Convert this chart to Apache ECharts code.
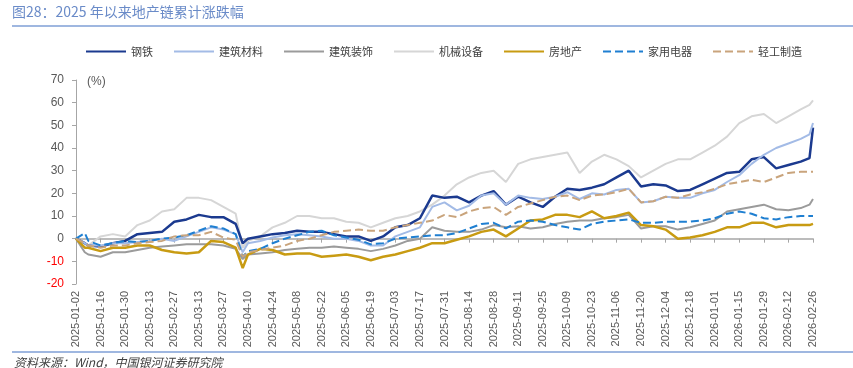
<!DOCTYPE html>
<html>
<head>
<meta charset="utf-8">
<script src="https://cdn.jsdelivr.net/npm/echarts@6/dist/echarts.min.js"></script>
<style>
    html, body { margin: 0; padding: 0; background: #fff; }
    #chart { width: 853px; height: 368px; }
</style>
</head>
<body>
<div id="chart"></div>
<script>
// 采样日期（每周 + 几个关键日）
var dates = [
    '2025-01-02', '2025-01-07',
    '2025-01-09', '2025-01-16', '2025-01-23', '2025-01-30', '2025-02-06', '2025-02-13', '2025-02-20', '2025-02-27', '2025-03-06', '2025-03-13', '2025-03-20', '2025-03-27', '2025-04-03',
    '2025-04-07',
    '2025-04-10', '2025-04-17', '2025-04-24', '2025-05-01', '2025-05-08', '2025-05-15', '2025-05-22', '2025-05-29', '2025-06-05', '2025-06-12', '2025-06-19', '2025-06-26', '2025-07-03', '2025-07-10', '2025-07-17', '2025-07-24',
    '2025-07-31', '2025-08-07', '2025-08-14', '2025-08-21', '2025-08-28', '2025-09-04', '2025-09-11', '2025-09-18', '2025-09-25', '2025-10-02', '2025-10-09', '2025-10-16', '2025-10-23', '2025-10-30', '2025-11-06', '2025-11-13',
    '2025-11-20', '2025-11-27', '2025-12-04', '2025-12-11', '2025-12-18', '2025-12-25', '2026-01-01', '2026-01-08', '2026-01-15', '2026-01-22', '2026-01-29', '2026-02-05', '2026-02-12', '2026-02-19',
    '2026-02-24', '2026-02-26'
];

var steel = [
    0, -2,
    -3, -3.5, -2, -1, 2, 2.5, 3, 7.5, 8.5, 10.5, 9.5, 9.5, 6.5,
    -2,
    0, 1, 2, 2.5, 3.5, 3, 3, 2, 1, 1, -1, 1, 5, 6, 9, 19,
    18, 18.5, 16, 19, 21, 15, 18.5, 16, 14, 18.5, 22, 21.5, 22.5, 24, 27, 30,
    23, 24, 23.5, 21, 21.5, 24, 26.5, 29, 29.5, 35, 36, 31, 32.5, 34,
    35.5, 49
];
var buildMaterial = [
    0, -2,
    -3, -3, -2, -2, -1.5, -1, 0, -1, 1, 3, 5, 4, 2,
    -6,
    -2, -1, 0.5, 1.5, 2, 1.5, 1, 0, 0, -1, -3, -3, 1, 3, 5, 14,
    16, 12.5, 14.5, 19, 20, 15, 19, 18, 17.5, 18.5, 20.5, 17.5, 20, 19.5, 21.5, 22,
    16, 16.5, 18.5, 18, 18, 20, 21.5, 25, 28, 33, 37, 40, 42, 44,
    46, 51
];
var buildDeco = [
    0, -6,
    -7, -8, -6, -6, -5, -4, -3.5, -3, -2.5, -2.5, -2.5, -3, -4.5,
    -9,
    -7, -6.5, -6, -5, -4.5, -4, -4, -3.5, -4, -4.5, -5.5, -4.5, -3, -1, 0, 5,
    3.5, 3, 3, 4, 6, 5, 5.5, 4.5, 5, 6.5, 7.5, 8, 8, 9, 9.5, 10.5,
    4.5, 5.5, 5.5, 4, 5, 6.5, 8, 12, 13, 14, 15, 13, 12.5, 13.5,
    15, 17.5
];
var machinery = [
    0, -2,
    -3, 1, 2, 1, 6, 8, 12, 13, 18, 18, 17, 14, 11,
    -4,
    -1, 1, 5, 7, 10, 10, 9, 9, 7.5, 7, 5, 7, 9, 10, 12, 15,
    19, 24, 27, 29, 30, 25, 33, 35, 36, 37, 38, 29, 34, 37, 35, 32,
    27, 30, 33, 35, 35, 38, 41, 45, 51, 54, 55, 51, 54, 57,
    59, 61
];
var realEstate = [
    0, -4,
    -4, -5.5, -4, -4, -3, -3, -5, -6, -6.5, -6, -1, -1.5, -4,
    -13,
    -7, -4.5, -5, -7, -6.5, -6.5, -8, -7.5, -7, -8, -9.5, -8, -7, -5.5, -4, -2,
    -2, -0.5, 1, 3, 4, 1, 4.5, 8, 8.5, 10.5, 10.5, 9.5, 12, 9, 10, 11.5,
    6, 5.5, 4, 0, 0.5, 1.5, 3, 5, 5, 7, 7, 5, 6, 6,
    6, 6.5
];
var appliance = [
    0, 2.5,
    -1, -3, -2, -1, -1.5, -1, 0, 0.5, 1.5, 3.5, 5.5, 4.5, 2,
    -8,
    -5.5, -4.5, -2, 0, 1.5, 3, 3.5, 1.5, 0.5, -0.5, -2.5, -2, 0, 0.5, 1, 1.5,
    1.5, 2.5, 4.5, 6.5, 7, 4.5, 7.5, 8, 7.5, 6, 5, 4, 6.5, 7.5, 8, 8.5,
    7, 7, 7.5, 7.5, 7.5, 8, 9, 11, 12, 11, 9, 8.5, 9.5, 10,
    10, 10
];
var lightIndustry = [
    0, -2,
    -3, -4, -3, -3, -2, -1.5, -1, 1, 1.5, 1.5, 3, 0.5, -0.5,
    -8,
    -6, -5, -4, -3, -1, 0, 1.5, 3, 3.5, 4, 3.5, 3.5, 5, 6, 7, 8,
    10.5, 9.5, 12, 13.5, 14, 10.5, 14, 15.5, 17, 18.5, 19, 17, 19, 19.5, 20.5, 22,
    16, 16.5, 18.5, 18, 19.5, 20.5, 22, 24, 25, 26, 25, 27, 29, 29.5,
    29.5, 29.5
];

var seriesNames = ['钢铁', '建筑材料', '建筑装饰', '机械设备', '房地产', '家用电器', '轻工制造'];
var seriesData = [steel, buildMaterial, buildDeco, machinery, realEstate, appliance, lightIndustry];
var seriesColors = ['#1b3a8f', '#a3bbe6', '#9b9b9b', '#d6d6d6', '#c89b12', '#1f7fd1', '#c9a47c'];
var seriesWidths = [2.5, 2, 2, 2, 2.5, 2, 2];
var seriesTypes = ['solid', 'solid', 'solid', 'solid', 'solid', 'dashed', 'dashed'];

var startMs = Date.parse('2025-01-02');
var dayMs = 86400000;
function dayIndex(d) {
    return Math.round((Date.parse(d) - startMs) / dayMs);
}
function dayLabel(v) {
    return new Date(startMs + v * dayMs).toISOString().slice(0, 10);
}

var myEcharts = echarts.init(document.getElementById('chart'));

var series = seriesNames.map(function (name, i) {
    return {
        name: name,
        type: 'line',
        xAxisIndex: 0,
        symbol: 'none',
        smooth: false,
        z: i === 3 ? 1 : 2 + i,
        lineStyle: {
            color: seriesColors[i],
            width: seriesWidths[i],
            type: seriesTypes[i]
        },
        itemStyle: { color: seriesColors[i] },
        data: dates.map(function (d, j) {
            return [dayIndex(d), seriesData[i][j]];
        })
    };
});

myEcharts.setOption({
    animation: false,
    textStyle: { fontFamily: 'Liberation Sans, "Noto Sans CJK SC", sans-serif' },
    legend: {
        left: 80,
        top: 41,
        itemWidth: 40,
        itemHeight: 12,
        itemGap: 20,
        itemStyle: { opacity: 0 },//图例只显示线
        textStyle: { fontSize: 11, color: '#404040', fontFamily: '"Noto Sans CJK SC", sans-serif' },
        data: seriesNames
    },
    grid: {
        left: 76,
        right: 40,
        top: 80,
        bottom: 84,
        containLabel: false
    },
    xAxis: [
        {
            //零轴线和刻度
            type: 'value',
            min: 0,
            max: 420,
            interval: 14,
            position: 'bottom',
            axisLine: { show: true, onZero: true, lineStyle: { color: '#a6a6a6', width: 1.5 } },
            axisTick: { show: true, length: 4, lineStyle: { color: '#a6a6a6' } },
            axisLabel: { show: false },
            splitLine: { show: false }
        },
        {
            //底部日期标签
            type: 'value',
            min: 0,
            max: 420,
            interval: 14,
            position: 'bottom',
            axisLine: { show: false, onZero: false },
            axisTick: { show: false },
            splitLine: { show: false },
            axisLabel: {
                rotate: 90,
                margin: 7,
                fontSize: 11,
                color: '#595959',
                formatter: dayLabel
            }
        }
    ],
    yAxis: {
        type: 'value',
        min: -20,
        max: 70,
        interval: 10,
        axisLine: { show: true, lineStyle: { color: '#a6a6a6', width: 1 } },
        axisTick: { show: true, length: 4, lineStyle: { color: '#a6a6a6' } },
        splitLine: { show: false },
        axisLabel: {
            fontSize: 12,
            margin: 12,
            color: function (v) {
                return Number(v) < 0 ? '#ff0000' : '#595959';
            }
        }
    },
    graphic: [
        {
            type: 'text',
            left: 12,
            top: 5,
            style: {
                text: '图28：2025 年以来地产链累计涨跌幅',
                fill: '#6a8bc8',
                font: '14px "Noto Sans CJK SC", sans-serif'
            }
        },
        {
            type: 'line',
            shape: { x1: 12, y1: 26, x2: 853, y2: 26 },
            style: { stroke: '#7f9fd6', lineWidth: 1.5 }
        },
        {
            type: 'text',
            left: 87,
            top: 76,
            style: {
                text: '(%)',
                fill: '#595959',
                font: '12px "Liberation Sans", sans-serif'
            }
        },
        {
            type: 'line',
            shape: { x1: 12, y1: 352, x2: 853, y2: 352 },
            style: { stroke: '#7f9fd6', lineWidth: 1.5 }
        },
        {
            type: 'text',
            left: 14,
            top: 356,
            style: {
                text: '资料来源：Wind，中国银河证券研究院',
                fill: '#404040',
                font: 'italic 12px "Noto Sans CJK SC", sans-serif'
            }
        }
    ],
    series: series
});
</script>
</body>
</html>
